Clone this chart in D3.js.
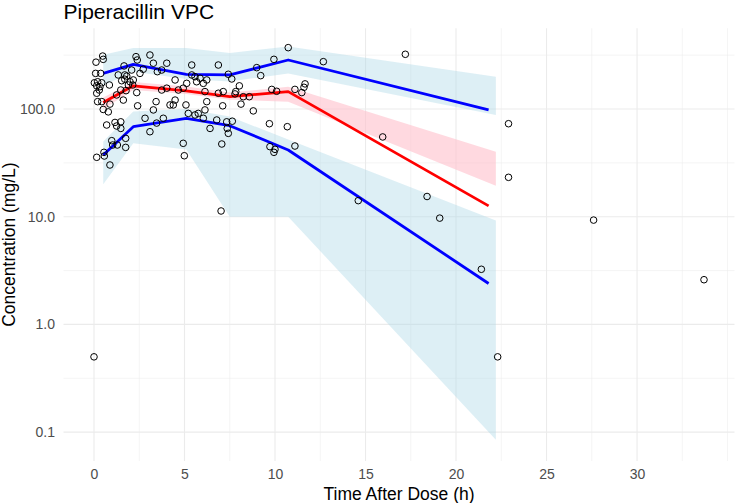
<!DOCTYPE html>
<html>
<head>
<meta charset="utf-8">
<script src="https://cdn.jsdelivr.net/npm/d3@7/dist/d3.min.js"></script>
<style>
  html, body { margin: 0; padding: 0; background: #fff; }
  svg { display: block; font-family: "Liberation Sans", Arial, sans-serif; }
</style>
</head>
<body>
<svg id="chart" width="735" height="503"></svg>
<script>
// ---------- data ----------
const obsTime = [0.11,0.48,0.51,0.09,0.37,0.02,0.2,0.43,0.15,0.33,0.29,0.15,0.85,0.2,0.43,0.88,0.51,0.79,
  1.66,1.7,1.34,2.08,2.32,2.39,2.54,2.72,3.09,3.28,3.5,1.25,1.48,1.77,1.9,2.14,1.53,1.7,1.99,2.17,2.36,1.81,1.62,2.41,3.28,3.43,
  0.7,1.16,1.25,1.48,1.48,0.15,0.55,0.57,0.88,0.98,1.03,1.29,1.75,1.75,2.82,3.09,3.46,4.93,4.99,7.02,7.06,
  4.02,3.74,3.74,4.02,4.48,4.48,4.2,4.38,4.66,4.93,5.12,5.4,5.4,5.58,5.67,5.86,6.04,6.23,6.13,6.23,5.08,5.21,5.58,5.76,6.13,6.04,
  6.87,6.87,6.78,6.41,3.83,7.42,7.61,8.03,7.83,7.79,8.25,8.58,8.12,7.14,7.11,8.8,7.33,7.64,7.36,7.42,
  8.99,9.21,9.94,10.73,9.82,10.09,11.1,11.48,11.6,11.66,9.69,10.68,9.72,10.0,9.94,11.1,12.67,
  0,14.6,15.95,17.2,18.4,19.1,21.4,22.3,22.9,22.9,27.6,33.7];
const obsConc = [272,310,289,214,214,175,179,175,164,161,150,140,167,117,117,111,99,94,
  251,207,207,230,306,285,214,234,317,266,222,135,150,148,167,167,183,189,179,186,142,202,121,107,98,117,
  71,75,69.5,76,66,35.6,39.6,36.6,30.2,50.8,46.3,46.3,53.4,44,82,61.5,74,48,36.8,11.3,47.3,
  266,230,150,156,186,121,109,109,150,156,173,256,207,199.5,179,193,173,186,145,117,109,91,88,91,98,82,
  256,140,79,66,82,210,190,164,145,138,130,130,111,145,107,96,76,77,66,59.4,
  242,204,289,371,152,146,152,142,159,171,73,68.5,44.7,42.2,39.6,45.3,275,
  0.5,14.1,55,322,15.4,9.7,3.25,0.5,73,23.2,9.3,2.6];

// observed percentile lines (5th, 50th, 95th)
const binTime = [0.51, 2.17, 5.1, 7.5, 10.73, 21.8];
const obsP05 = [37.4, 68.5, 82, 70, 41.6, 2.4];
const obsP50 = [115, 164, 147, 130, 145, 12.6];
const obsP95 = [214, 260, 210, 207, 285, 98];

// simulated prediction intervals (ribbons)
const ribTime = [0.51, 2.17, 5.1, 7.5, 10.73, 22.2];
const piLo05 = [20, 48, 42, 10, 10, 0.085];
const piHi05 = [50, 95, 100, 85, 52, 9.2];
const piLo50 = [100, 150, 138, 122, 117, 19.4];
const piHi50 = [128, 178, 162, 142, 161, 40];
const piLo95 = [165, 222, 190, 180, 214, 88];
const piHi95 = [318, 368, 368, 331, 380, 199];

const xTicks = [0, 5, 10, 15, 20, 25, 30];
const xMinor = [2.5, 7.5, 12.5, 17.5, 22.5, 27.5, 32.5, 35];
const yTicks = [0.1, 1, 10, 100];
const yMinor = [Math.pow(10,-0.5), Math.pow(10,0.5), Math.pow(10,1.5), Math.pow(10,2.5)];

// ---------- layout ----------
const svg = d3.select("#chart");
const L = 63.5, R = 734.5, T = 28.2, B = 461;
const x = d3.scaleLinear().domain([-1.685, 35.385]).range([L, R]);
const y = d3.scaleLog().domain([Math.pow(10,-1.268), Math.pow(10,2.75)]).range([B, T]);

const grid = svg.append("g");
grid.selectAll(".xm").data(xMinor).enter().append("line")
  .attr("x1", d => x(d)).attr("x2", d => x(d)).attr("y1", T).attr("y2", B)
  .attr("stroke", "#EBEBEB").attr("stroke-width", 0.55);
grid.selectAll(".ym").data(yMinor).enter().append("line")
  .attr("y1", d => y(d)).attr("y2", d => y(d)).attr("x1", L).attr("x2", R)
  .attr("stroke", "#EBEBEB").attr("stroke-width", 0.55);
grid.selectAll(".xM").data(xTicks).enter().append("line")
  .attr("x1", d => x(d)).attr("x2", d => x(d)).attr("y1", T).attr("y2", B)
  .attr("stroke", "#EBEBEB").attr("stroke-width", 1.1);
grid.selectAll(".yM").data(yTicks).enter().append("line")
  .attr("y1", d => y(d)).attr("y2", d => y(d)).attr("x1", L).attr("x2", R)
  .attr("stroke", "#EBEBEB").attr("stroke-width", 1.1);

// ribbons
function ribbon(lo, hi, fill, op) {
  const data = ribTime.map((t, i) => ({t, lo: lo[i], hi: hi[i]}));
  const area = d3.area().x(d => x(d.t)).y0(d => y(d.lo)).y1(d => y(d.hi));
  svg.append("path").datum(data).attr("d", area).attr("fill", fill).attr("fill-opacity", op);
}
ribbon(piLo05, piHi05, "#ADD8E6", 0.42);
ribbon(piLo95, piHi95, "#ADD8E6", 0.42);
ribbon(piLo50, piHi50, "#FFC0CB", 0.6);

// lines
function pline(vals, color) {
  const data = binTime.map((t, i) => ({t, v: vals[i]}));
  const line = d3.line().x(d => x(d.t)).y(d => y(d.v));
  svg.append("path").datum(data).attr("d", line).attr("fill", "none")
    .attr("stroke", color).attr("stroke-width", 2.8).attr("stroke-linejoin", "round");
}
pline(obsP05, "#0000FF");
pline(obsP95, "#0000FF");
pline(obsP50, "#FF0000");

// points
svg.append("g").selectAll("circle").data(obsTime.map((t, i) => ({t, c: obsConc[i]})))
  .enter().append("circle")
  .attr("cx", d => x(d.t)).attr("cy", d => y(d.c)).attr("r", 3.3)
  .attr("fill", "none").attr("stroke", "#000").attr("stroke-width", 1);

// axes
const xAxis = svg.append("g").attr("transform", `translate(0,${B})`)
  .call(d3.axisBottom(x).tickValues(xTicks).tickSize(0).tickPadding(8.4).tickFormat(d3.format("d")));
const yAxis = svg.append("g").attr("transform", `translate(${L},0)`)
  .call(d3.axisLeft(y).tickValues(yTicks).tickSize(0).tickPadding(8.5).tickFormat(d3.format(".1f")));
[xAxis, yAxis].forEach(a => {
  a.select(".domain").remove();
  a.selectAll("text").attr("fill", "#4D4D4D").style("font-size", "14px")
    .style("font-family", "'Liberation Sans', Arial, sans-serif");
});

// titles
svg.append("text").attr("x", L).attr("y", 19).text("Piperacillin VPC")
  .attr("fill", "#000").style("font-size", "21px");
svg.append("text").attr("x", 399).attr("y", 500).attr("text-anchor", "middle")
  .text("Time After Dose (h)").attr("fill", "#000").style("font-size", "17.5px");
svg.append("text").attr("transform", `translate(15,${(T + B) / 2}) rotate(-90)`)
  .attr("text-anchor", "middle").text("Concentration (mg/L)")
  .attr("fill", "#000").style("font-size", "17.5px");
</script>
</body>
</html>
